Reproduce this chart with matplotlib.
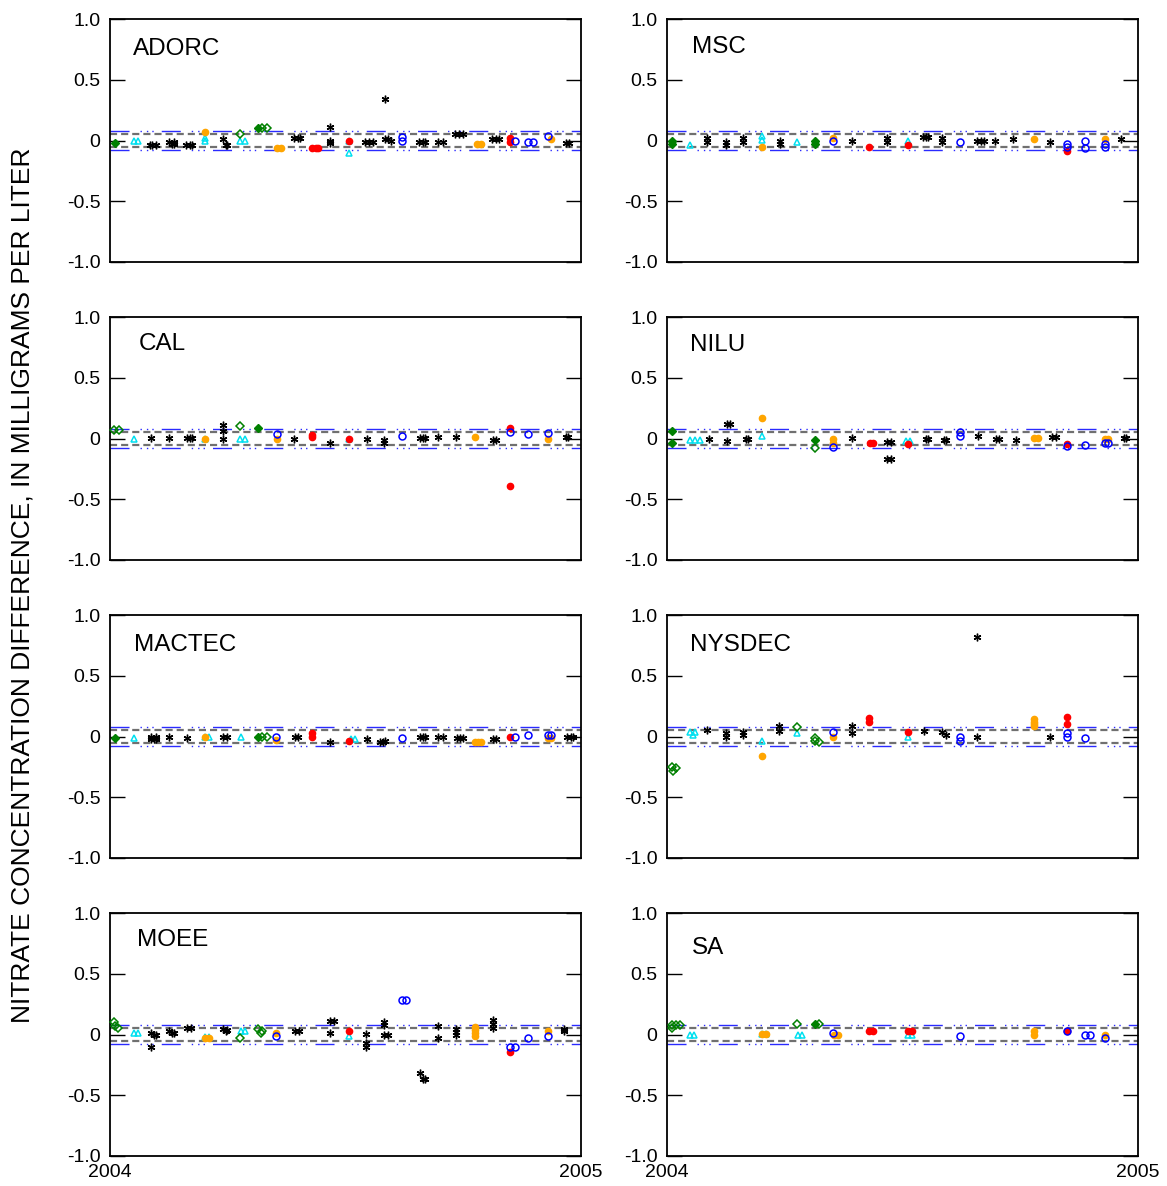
import matplotlib
matplotlib.use("Agg")
import matplotlib.pyplot as plt

plt.rcParams['font.family'] = ['Liberation Sans', 'DejaVu Sans']

# day of year 2004 (0-366) and concentration difference, by symbol
# k = black asterisk, o = orange dot, r = red dot, b = blue circle,
# c = cyan triangle, g = green diamond (open), G = green diamond (filled)
adorc = {
    'k': [(31, -0.04), (33, -0.04), (36, -0.04), (46, -0.01), (48, -0.03), (50, -0.01), (50, -0.03),
          (59, -0.035), (62, -0.035), (64, -0.035), (88, 0.01), (90, -0.04), (91, -0.04),
          (143, 0.02), (146, 0.02), (148, 0.02), (171, 0.11), (171, 0.0), (171, -0.02),
          (198, -0.01), (201, -0.01), (204, -0.01), (214, 0.01), (216, 0.01), (218, 0.0), (214, 0.34),
          (240, -0.01), (243, -0.01), (245, -0.01), (255, -0.01), (259, -0.01),
          (268, 0.055), (271, 0.055), (274, 0.055), (297, 0.01), (300, 0.01), (302, 0.01),
          (354, -0.02), (357, -0.02)],
    'G': [(4, -0.02), (115, 0.1)],
    'g': [(101, 0.05), (118, 0.1), (122, 0.1)],
    'c': [(19, -0.005), (22, -0.005), (74, 0.02), (74, 0.0), (101, 0.0), (105, 0.0), (186, 0.0), (186, -0.1)],
    'o': [(74, 0.07), (130, -0.06), (133, -0.06), (285, -0.03), (288, -0.03), (343, 0.01)],
    'r': [(157, -0.06), (160, -0.065), (162, -0.065), (186, 0.0), (311, 0.02), (311, -0.01)],
    'b': [(227, 0.03), (227, 0.0), (315, -0.005), (325, -0.015), (329, -0.015), (340, 0.04)],
}
msc = {
    'G': [(4, 0.0), (4, -0.03), (115, 0.0), (115, -0.03)],
    'c': [(18, -0.035), (74, 0.035), (74, 0.005), (101, -0.015), (187, 0.0)],
    'k': [(31, 0.02), (31, -0.01), (46, -0.01), (46, -0.035), (59, 0.02), (59, -0.01), (88, 0.0), (88, -0.03),
          (144, -0.005), (171, 0.02), (171, -0.01), (199, 0.03), (201, 0.03), (203, 0.025),
          (214, 0.02), (214, -0.01), (241, 0.0), (244, 0.0), (246, 0.0), (255, 0.0), (269, 0.01),
          (298, -0.01), (353, 0.015)],
    'b': [(129, 0.0), (228, -0.01), (311, -0.03), (311, -0.05), (325, 0.0), (325, -0.065), (340, -0.03), (340, -0.05)],
    'o': [(74, -0.055), (129, 0.02), (285, 0.015), (340, 0.015)],
    'r': [(157, -0.05), (187, -0.04), (311, -0.09)],
}
cal = {
    'g': [(3, 0.07), (7, 0.07), (101, 0.1)],
    'G': [(115, 0.085)],
    'c': [(19, 0.0), (74, 0.0), (101, 0.0), (105, 0.0), (186, 0.0)],
    'k': [(32, 0.005), (46, 0.005), (60, 0.005), (62, 0.005), (64, 0.005), (88, 0.11), (88, 0.06), (88, 0.0),
          (143, 0.0), (171, -0.04), (200, 0.0), (213, -0.01), (213, -0.035), (241, 0.005), (243, 0.005),
          (245, 0.005), (255, 0.01), (269, 0.01), (298, -0.01), (300, -0.01), (354, 0.01), (356, 0.01)],
    'o': [(74, 0.0), (130, -0.005), (284, 0.01), (340, 0.0)],
    'r': [(157, 0.03), (157, 0.015), (186, -0.005), (311, 0.085), (311, -0.39)],
    'b': [(130, 0.04), (227, 0.02), (311, 0.055), (325, 0.035), (340, 0.045)],
}
nilu = {
    'G': [(4, 0.06), (4, -0.04), (115, -0.01)],
    'g': [(115, -0.075)],
    'c': [(18, -0.015), (22, -0.015), (26, -0.015), (74, 0.02), (186, -0.02), (189, -0.02)],
    'k': [(33, 0.0), (47, 0.12), (49, 0.12), (47, -0.02), (61, 0.0), (63, 0.0), (144, 0.005),
          (171, -0.03), (174, -0.03), (171, -0.165), (174, -0.165), (201, 0.0), (203, 0.0),
          (215, -0.015), (217, -0.015), (242, 0.02), (256, 0.0), (258, 0.0), (271, -0.015),
          (299, 0.015), (302, 0.015), (355, 0.005), (357, 0.005)],
    'o': [(74, 0.165), (129, 0.0), (129, -0.035), (285, 0.005), (288, 0.005), (340, 0.0), (343, 0.0)],
    'b': [(129, -0.07), (228, 0.05), (228, 0.02), (311, -0.06), (325, -0.05), (340, -0.035), (343, -0.035)],
    'r': [(158, -0.035), (160, -0.035), (187, -0.045), (311, -0.045)],
}
mactec = {
    'G': [(4, -0.01), (115, 0.0)],
    'g': [(118, 0.0), (122, 0.0)],
    'c': [(19, -0.015), (74, -0.005), (77, -0.005), (102, -0.005), (187, -0.02), (190, -0.02)],
    'k': [(32, -0.02), (34, -0.02), (36, -0.02), (32, -0.005), (36, -0.005), (46, 0.0), (60, -0.015),
          (88, 0.0), (91, 0.0), (144, -0.005), (146, -0.005), (171, -0.045), (200, -0.02),
          (210, -0.045), (212, -0.045), (214, -0.04), (241, -0.005), (243, -0.005), (245, -0.005),
          (255, 0.0), (259, 0.0), (270, -0.01), (272, -0.01), (274, -0.01), (298, -0.02), (300, -0.02),
          (355, 0.0), (358, 0.0), (360, 0.0)],
    'o': [(74, -0.005), (129, -0.03), (284, -0.045), (286, -0.045), (288, -0.045), (340, -0.01), (343, -0.01)],
    'r': [(157, 0.025), (157, 0.0), (186, -0.035), (311, 0.0)],
    'b': [(129, -0.005), (227, -0.015), (315, 0.0), (325, 0.01), (340, 0.01), (343, 0.01)],
}
nysdec = {
    'g': [(4, -0.25), (5, -0.28), (7, -0.26), (101, 0.08), (115, -0.01), (115, -0.04), (118, -0.045)],
    'c': [(18, 0.035), (20, 0.015), (22, 0.035), (74, -0.035), (101, 0.025), (187, 0.0)],
    'k': [(31, 0.05), (46, 0.025), (46, 0.0), (59, 0.035), (59, 0.01), (87, 0.09), (87, 0.045),
          (144, 0.09), (144, 0.025), (200, 0.045), (214, 0.035), (217, 0.01), (241, 0.0), (241, 0.82), (298, 0.0)],
    'o': [(74, -0.16), (129, -0.005), (285, 0.14), (285, 0.12), (285, 0.1), (285, 0.085)],
    'r': [(157, 0.15), (157, 0.12), (187, 0.035), (311, 0.16), (311, 0.105)],
    'b': [(129, 0.035), (228, 0.0), (228, -0.04), (311, 0.025), (311, 0.0), (325, -0.015)],
}
moee = {
    'g': [(3, 0.1), (4, 0.07), (6, 0.05), (101, -0.03), (115, 0.045), (117, 0.01), (118, 0.03)],
    'c': [(19, 0.01), (22, 0.01), (74, -0.02), (77, -0.02), (102, 0.03), (105, 0.03), (186, -0.01)],
    'o': [(74, -0.025), (77, -0.025), (129, 0.01), (284, 0.065), (284, 0.04), (284, 0.015), (284, -0.015), (340, 0.03)],
    'k': [(32, 0.015), (34, 0.0), (36, 0.0), (32, -0.105), (46, 0.025), (48, 0.01), (50, 0.01), (60, 0.05), (63, 0.05),
          (88, 0.045), (90, 0.025), (91, 0.035), (144, 0.025), (147, 0.025), (171, 0.11), (174, 0.11), (171, 0.01),
          (199, 0.005), (199, -0.07), (199, -0.1), (213, 0.1), (213, 0.08), (213, 0.0), (216, 0.0),
          (241, -0.32), (243, -0.37), (245, -0.37), (255, 0.07), (255, -0.025), (269, 0.045), (269, 0.02),
          (269, 0.0), (298, 0.12), (298, 0.09), (298, 0.05), (353, 0.045), (353, 0.03)],
    'r': [(186, 0.03), (311, -0.145)],
    'b': [(129, -0.01), (227, 0.285), (230, 0.285), (311, -0.1), (315, -0.1), (325, -0.025), (340, -0.01)],
}
sa = {
    'g': [(4, 0.08), (7, 0.08), (10, 0.08), (4, 0.05), (101, 0.09), (118, 0.085)],
    'G': [(115, 0.085)],
    'c': [(18, 0.0), (21, 0.0), (74, 0.005), (77, 0.005), (102, 0.0), (105, 0.0), (187, 0.0), (190, 0.0)],
    'o': [(74, 0.005), (77, 0.005), (130, 0.0), (133, 0.0), (285, 0.03), (285, 0.0), (340, 0.0)],
    'r': [(157, 0.03), (160, 0.025), (187, 0.025), (190, 0.025), (311, 0.03)],
    'b': [(129, 0.01), (228, -0.01), (311, 0.03), (325, 0.0), (329, 0.0), (340, -0.025)],
}

panel_names = ['ADORC', 'MSC', 'CAL', 'NILU', 'MACTEC', 'NYSDEC', 'MOEE', 'SA']
panel_data = [adorc, msc, cal, nilu, mactec, nysdec, moee, sa]
inner_limit = 0.055   # gray dashed
outer_limit = 0.08    # blue dash-dot
year_ticks = [0, 366]
year_labels = ['2004', '2005']
y_ticks = [-1.0, -0.5, 0.0, 0.5, 1.0]
y_labels = ['-1.0', '-0.5', '0', '0.5', '1.0']

styles = {
    'k': dict(marker=(6, 2, 0), ms=5.5, color='black', mew=1.0, ls='none'),
    'o': dict(marker='o', ms=4.5, color='orange', mec='orange', ls='none'),
    'r': dict(marker='o', ms=4.5, color='red', mec='red', ls='none'),
    'b': dict(marker='o', ms=5, mfc='none', mec='blue', mew=1.1, ls='none'),
    'c': dict(marker='^', ms=5, mfc='none', mec='#00e0f0', mew=1.1, ls='none'),
    'g': dict(marker='D', ms=4, mfc='none', mec='green', mew=1.1, ls='none'),
    'G': dict(marker='D', ms=4, mfc='green', mec='green', ls='none'),
}
draw_order = ['c', 'g', 'G', 'k', 'o', 'r', 'b']

W, H = 1167, 1186
fig = plt.figure(figsize=(W / 100, H / 100), dpi=100)

col_x = [110, 667]
ax_w = 471
row_top = [19, 317, 615, 913]
ax_h = 243
title_off = [(0.049, 0.878), (0.053, 0.883), (0.062, 0.888), (0.049, 0.883),
             (0.05, 0.878), (0.049, 0.878), (0.058, 0.888), (0.053, 0.858)]

for i, (name, data) in enumerate(zip(panel_names, panel_data)):
    r, c = divmod(i, 2)
    ax = fig.add_axes([col_x[c] / W, 1 - (row_top[r] + ax_h) / H, ax_w / W, ax_h / H])

    for s in (1, -1):
        ax.plot([0, 366], [s * outer_limit] * 2, color='#2a2aff', lw=1.0,
                dashes=(13.7, 7.9, 1, 3.6, 1, 2.9, 1, 5.8), zorder=1)
        ax.plot([0, 366], [s * inner_limit] * 2, color='#707070', lw=1.6,
                dashes=(3.2, 1.8), zorder=1)

    for k in draw_order:
        if k in data:
            xs = [p[0] for p in data[k]]
            ys = [p[1] for p in data[k]]
            ax.plot(xs, ys, zorder=3, clip_on=False, **styles[k])

    ax.set_xlim(0, 366)
    ax.set_ylim(-1, 1)
    ax.set_yticks(y_ticks)
    ax.set_yticklabels(y_labels)
    ax.tick_params(axis='y', direction='in', length=11, width=1, left=True, right=True,
                   labelsize=14, pad=7)
    ax.set_xticks(year_ticks)
    if r == 3:
        ax.set_xticklabels(year_labels)
    else:
        ax.set_xticklabels([])
    ax.tick_params(axis='x', length=0, labelsize=14, pad=6)
    for sp in ax.spines.values():
        sp.set_linewidth(1.3)
    tx, ty = title_off[i]
    ax.text(tx, ty, name, transform=ax.transAxes, fontsize=17.5, va='center', ha='left')

fig.text(0.0195, 0.5067, 'NITRATE CONCENTRATION DIFFERENCE, IN MILLIGRAMS PER LITER',
         rotation=90, fontsize=19, ha='center', va='center')

fig.savefig('out.png', dpi=100)
